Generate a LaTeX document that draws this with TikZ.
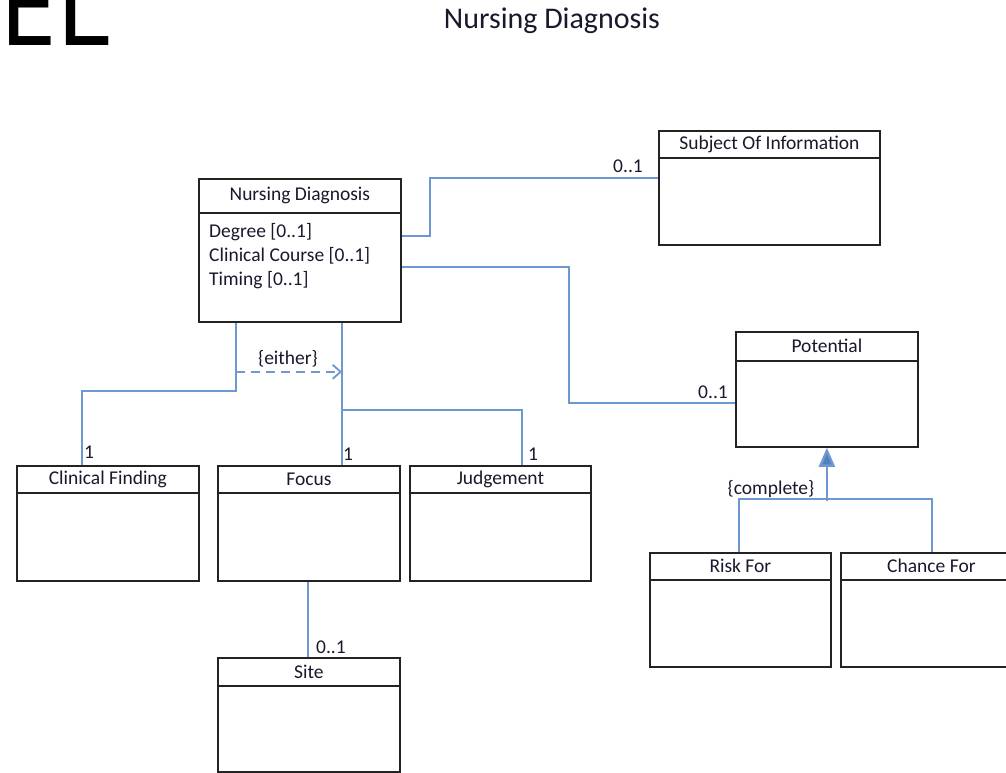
\documentclass[tikz,border=0pt]{standalone}
\usepackage{fontspec}
\setmainfont{Carlito}
\newfontfamily\monofont{DejaVu Sans Mono}
\usetikzlibrary{arrows.meta,calc}
\definecolor{conn}{RGB}{110,152,210}
\definecolor{gen}{RGB}{80,128,190}
\definecolor{boxline}{RGB}{35,35,35}
\definecolor{txt}{RGB}{25,25,45}
\tikzset{
  clsbox/.style={draw=boxline, line width=1.8pt, anchor=north west, inner sep=0pt, fill=white},
  clsline/.style={draw=boxline, line width=1.8pt},
  clstitle/.style={font=\fontsize{19.5}{22}\selectfont, text=txt, inner sep=0pt},
  attr/.style={font=\fontsize{19.5}{22}\selectfont, text=txt, inner sep=0pt, anchor=west},
  conn/.style={draw=conn, line width=1.8pt},
  genline/.style={draw=conn, line width=2.4pt},
  lbl/.style={font=\fontsize{19.5}{22}\selectfont, text=txt, inner sep=0pt},
}
\newcommand\umlcls[7]{%
  \node[clsbox, minimum width=#4pt, minimum height=#5pt] (#1) at (#2,#3) {};
  \draw[clsline] ($(#1.north west)+(0,#6)$) -- ($(#1.north east)+(0,#6)$);
  \node[clstitle] (#1-t) at ($(#1.north)+(0,#6/2)$) {#7};
}
\begin{document}
\begin{tikzpicture}[x=1pt,y=-1pt]
\useasboundingbox (0,0) rectangle (1006,772);
\clip (0,0) rectangle (1006,772);
\fill[white] (0,0) rectangle (1006,772);

% top texts
\node[font=\monofont\fontsize{108}{110}\selectfont, xscale=0.87, inner sep=0pt, anchor=base west] (el) at (0,45) {EL};
\node[font=\fontsize{30}{34}\selectfont, text=txt, inner sep=0pt] (title) at (552,21) {Nursing Diagnosis};

% classes
\umlcls{nd}{198}{178}{202}{143}{35}{Nursing Diagnosis}
\node[attr] (a1) at (209,232) {Degree [0..1]};
\node[attr] (a2) at (209,256) {Clinical Course [0..1]};
\node[attr] (a3) at (209,280) {Timing [0..1]};
\umlcls{subj}{658}{130}{221}{114}{28}{Subject Of Information}
\umlcls{pot}{735}{331}{182}{115}{30}{Potential}
\umlcls{cf}{16}{465}{182}{115}{28}{Clinical Finding}
\umlcls{fo}{217}{465}{182}{115}{28}{Focus}
\umlcls{ju}{409}{465}{181}{115}{28}{Judgement}
\umlcls{rf}{649}{552}{181}{114}{28}{Risk For}
\umlcls{ch}{840}{552}{181}{114}{28}{Chance For}
\umlcls{site}{217}{657}{182}{114}{29}{Site}

% connector points
\coordinate (p1) at ($(nd.north east)+(0,58)$);
\coordinate (p2) at ($(subj.north west)+(0,48)$);
\coordinate (p3) at ($(nd.north east)+(0,89)$);
\coordinate (p4) at ($(pot.north west)+(0,72)$);
\coordinate (q1) at ($(nd.south west)+(38,0)$);
\coordinate (q2) at ($(cf.north west)+(66,0)$);
\coordinate (r1) at ($(nd.south west)+(144,0)$);
\coordinate (r2) at (r1 |- fo.north);
\coordinate (r3) at ($(ju.north west)+(113,0)$);
\coordinate (s1) at ($(fo.south west)+(91,0)$);
\coordinate (s2) at (s1 |- site.north);
\coordinate (t1) at ($(rf.north west)+(90,0)$);
\coordinate (t2) at ($(ch.north west)+(92,0)$);
\coordinate (tj) at ($(pot.south)+(0,53)$);

% associations
\draw[conn] (p1) -- ++(28,0) |- (p2);
\draw[conn] (p3) -- ++(167,0) |- (p4);
\draw[conn] (q1) -- ++(0,68) -| (q2);
\draw[conn] (r1) -- (r2);
\draw[conn] ($(r1)+(0,87)$) -| (r3);
\draw[conn] (s1) -- (s2);
\draw[conn, dash pattern=on 9pt off 6pt, -{Straight Barb[length=8pt,width=14pt]}] ($(q1)+(0,49)$) -- ($(r1)+(0,49)$);

% generalization
\draw[genline] (t1) -- ++(0,-53) -| (t2);
\draw[genline, -{Triangle[length=19pt,width=16pt,fill=gen]}, draw=conn] (tj) -- (pot.south);

% labels
\node[lbl] (l1) at (628,166) {0..1};
\node[lbl] (l2) at (713,392) {0..1};
\node[lbl] (l3) at (89,452) {1};
\node[lbl] (l4) at (348,454) {1};
\node[lbl] (l5) at (533,454) {1};
\node[lbl] (l6) at (331,647) {0..1};
\node[lbl] (l7) at (288,359) {\{either\}};
\node[lbl] (l8) at (771,489) {\{complete\}};
\end{tikzpicture}
\end{document}
